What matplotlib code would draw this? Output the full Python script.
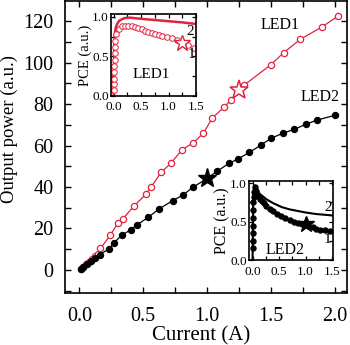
import matplotlib
matplotlib.use("Agg")
import matplotlib.pyplot as plt
from matplotlib.ticker import MultipleLocator

plt.rcParams['font.family'] = ['Liberation Serif', 'DejaVu Serif']
plt.rcParams['mathtext.fontset'] = 'stix'

RED = '#e2233f'

# Output power vs. current
led1_current = [0.01, 0.03, 0.05, 0.075, 0.10, 0.12, 0.145, 0.165, 0.24, 0.30, 0.34, 0.43,
                0.52, 0.56, 0.64, 0.72, 0.80, 0.89, 0.97, 1.04, 1.13, 1.19, 1.29, 1.50,
                1.60, 1.73, 1.90, 2.02]
led1_power = [0.5, 1.6, 2.7, 3.9, 5.2, 6.7, 7.7, 10.4, 16.6, 22.5, 24.7, 31.0,
              36.5, 39.9, 47.1, 51.7, 57.8, 61.3, 65.9, 73.3, 78.4, 82.2, 89.2, 99.1,
              104.9, 111.3, 117.3, 122.3]
led2_current = [0.01, 0.03, 0.06, 0.09, 0.12, 0.16, 0.23, 0.27, 0.33, 0.40, 0.45, 0.54,
                0.62, 0.73, 0.81, 0.89, 1.00, 1.08, 1.17, 1.24, 1.33, 1.42, 1.50, 1.59,
                1.68, 1.77, 1.86, 2.00]
led2_power = [0.4, 1.4, 2.8, 4.2, 5.6, 7.4, 10.1, 13.0, 16.7, 19.3, 21.7, 25.4,
              29.3, 33.4, 36.1, 39.9, 44.2, 47.7, 51.4, 53.5, 56.7, 60.2, 63.5, 65.9,
              67.8, 70.2, 72.3, 74.6]
star1 = (1.25, 86.7)
star2 = (1.00, 44.2)

# PCE insets: curve 1 (measured, markers) and curve 2 (solid line)
in1_c1_current = [0.01, 0.01, 0.012, 0.012, 0.014, 0.015, 0.017, 0.02, 0.025, 0.05, 0.09,
                  0.145, 0.20, 0.265, 0.33, 0.39, 0.45, 0.51, 0.57, 0.63, 0.69, 0.75,
                  0.82, 0.88, 0.97, 1.06, 1.15, 1.36, 1.47]
in1_c1_pce = [0.08, 0.15, 0.22, 0.30, 0.38, 0.46, 0.54, 0.62, 0.70, 0.78, 0.85,
              0.88, 0.89, 0.89, 0.88, 0.87, 0.857, 0.844, 0.827, 0.814, 0.797, 0.78,
              0.77, 0.76, 0.75, 0.735, 0.71, 0.65, 0.61]
in1_c2_current = [0.0, 0.005, 0.01, 0.02, 0.04, 0.07, 0.10, 0.15, 0.20, 0.30, 0.50, 0.75,
                  1.00, 1.25, 1.50]
in1_c2_pce = [0.0, 0.30, 0.60, 0.78, 0.87, 0.92, 0.95, 0.97, 0.985, 0.99, 0.975, 0.96,
              0.945, 0.93, 0.91]
in1_star = (1.25, 0.67)

in2_c1_current = [0.005, 0.005, 0.007, 0.008, 0.01, 0.012, 0.015, 0.02, 0.03, 0.043, 0.07,
                  0.105, 0.14, 0.17, 0.21, 0.26, 0.32, 0.39, 0.47, 0.545, 0.62, 0.70,
                  0.78, 0.86, 0.93, 1.05, 1.13, 1.205, 1.28, 1.36, 1.455]
in2_c1_pce = [0.16, 0.25, 0.35, 0.45, 0.55, 0.65, 0.75, 0.82, 0.88, 0.95, 0.90,
              0.835, 0.80, 0.77, 0.74, 0.705, 0.67, 0.64, 0.605, 0.575, 0.545, 0.52,
              0.50, 0.48, 0.465, 0.445, 0.43, 0.41, 0.40, 0.39, 0.38]
in2_c2_current = [0.0, 0.005, 0.01, 0.02, 0.04, 0.07, 0.137, 0.263, 0.39, 0.55, 0.70,
                  0.85, 1.00, 1.20, 1.455, 1.52]
in2_c2_pce = [0.0, 0.40, 0.75, 0.90, 0.97, 0.93, 0.86, 0.79, 0.74, 0.69, 0.66,
              0.64, 0.62, 0.60, 0.585, 0.58]
in2_star = (1.00, 0.47)

fig = plt.figure(figsize=(3.5, 3.45), dpi=100)
ax = fig.add_axes([0.186, 0.151, 0.805, 0.847])

ax.plot(led1_current, led1_power, '-o', color=RED, lw=0.9, ms=4.5, mfc='white',
        mec=RED, mew=0.9, zorder=3)
ax.plot(led2_current, led2_power, '-o', color='black', lw=0.9, ms=4.3, zorder=3)
ax.plot(*star1, marker='*', ms=14, mfc='white', mec=RED, mew=1.1, zorder=4)
ax.plot(*star2, marker='*', ms=14, color='black', zorder=4)

ax.text(1.57, 118, 'LED1', fontsize=11.5, ha='center', va='center')
ax.text(1.88, 83.4, 'LED2', fontsize=11.5, ha='center', va='center')

ax.set_xlim(-0.112, 2.093)
ax.set_ylim(-11.1, 129.9)
ax.xaxis.set_major_locator(MultipleLocator(0.5))
ax.xaxis.set_minor_locator(MultipleLocator(0.25))
ax.yaxis.set_major_locator(MultipleLocator(20))
ax.yaxis.set_minor_locator(MultipleLocator(10))
ax.xaxis.set_major_formatter(plt.FuncFormatter(lambda v, p: f'{v:.1f}'))
ax.tick_params(which='both', direction='in', top=True, right=True, length=4,
               width=1.0, labelsize=14.5)
ax.tick_params(axis='x', pad=10)
ax.tick_params(axis='y', pad=8.5)
for s in ax.spines.values():
    s.set_linewidth(1.2)
ax.set_xlabel('Current (A)', fontsize=15, labelpad=0)
ax.xaxis.set_label_coords(0.484, -0.148)
ax.xaxis.label.set_va('center')
ax.set_ylabel('Output power (a.u.)', fontsize=13.5)
ax.yaxis.set_label_coords(-0.198, 0.561)
ax.yaxis.label.set_va('center')


def style_inset(a, xlim, label_size):
    a.set_xlim(*xlim)
    a.set_ylim(0, 1.03)
    a.xaxis.set_major_locator(MultipleLocator(0.5))
    a.xaxis.set_minor_locator(MultipleLocator(0.25))
    a.yaxis.set_major_locator(MultipleLocator(0.5))
    a.yaxis.set_minor_locator(MultipleLocator(0.25))
    a.xaxis.set_major_formatter(plt.FuncFormatter(lambda v, p: f'{v:.1f}'))
    a.yaxis.set_major_formatter(plt.FuncFormatter(lambda v, p: f'{v:.1f}'))
    a.tick_params(which='both', direction='in', top=True, right=True, length=3,
                  width=0.9, labelsize=9.5)
    a.tick_params(axis='x', pad=4)
    a.tick_params(axis='y', pad=1.5)
    for s in a.spines.values():
        s.set_linewidth(1.2)
    a.set_ylabel('PCE (a.u.)', fontsize=label_size, labelpad=0)


# Inset for LED1
ax1 = fig.add_axes([0.317, 0.722, 0.243, 0.236])
ax1.plot(in1_c2_current, in1_c2_pce, '-', color=RED, lw=1.8)
ax1.plot(in1_c1_current, in1_c1_pce, '-o', color=RED, lw=0.6, ms=4, mfc='white',
         mec=RED, mew=0.7)
ax1.plot(*in1_star, marker='*', ms=12, mfc='white', mec=RED, mew=1.0)
ax1.text(1.39, 0.81, '2', fontsize=11, ha='center', va='center')
ax1.text(1.42, 0.52, '1', fontsize=11, ha='center', va='center')
ax1.text(0.69, 0.27, 'LED1', fontsize=11, ha='center', va='center')
style_inset(ax1, (-0.05, 1.5), 10.5)

# Inset for LED2
ax2 = fig.add_axes([0.711, 0.245, 0.241, 0.231])
ax2.plot(in2_c2_current, in2_c2_pce, '-', color='black', lw=1.5)
ax2.plot(in2_c1_current, in2_c1_pce, '-o', color='black', lw=0.8, ms=3.6)
ax2.plot(*in2_star, marker='*', ms=12, color='black')
ax2.text(1.42, 0.69, '2', fontsize=11, ha='center', va='center')
ax2.text(1.42, 0.27, '1', fontsize=11, ha='center', va='center')
ax2.text(0.62, 0.14, 'LED2', fontsize=11.5, ha='center', va='center')
style_inset(ax2, (-0.07, 1.52), 11.5)

fig.savefig('out.png', dpi=100)
